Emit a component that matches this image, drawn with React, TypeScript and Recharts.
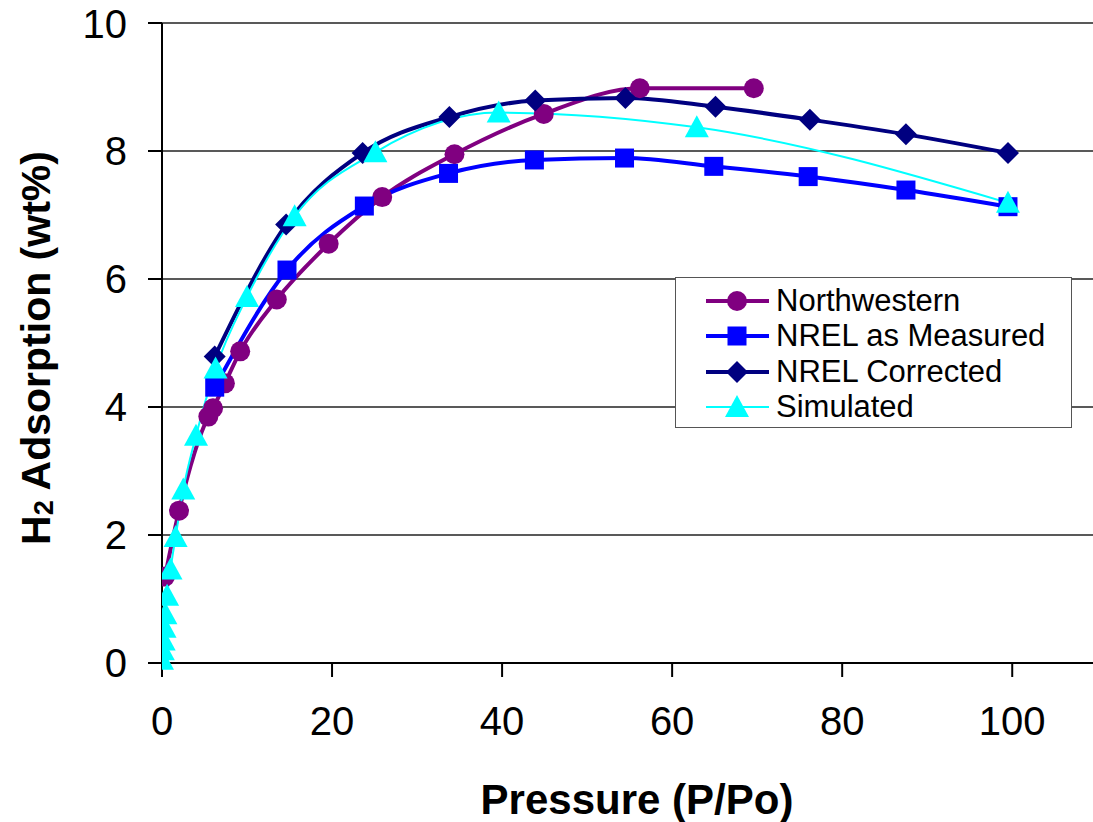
import React from "react";
import { LineChart, Line, XAxis, YAxis, CartesianGrid, Legend, Label } from "recharts";

// 각 시리즈 데이터 (압력 P/Po, 흡착량 wt%)
const northwestern = [
  { x: 0.35, y: 1.35 },
  { x: 2.0, y: 2.38 },
  { x: 5.45, y: 3.85 },
  { x: 6.0, y: 3.98 },
  { x: 7.4, y: 4.37 },
  { x: 9.2, y: 4.87 },
  { x: 13.5, y: 5.68 },
  { x: 19.6, y: 6.55 },
  { x: 25.9, y: 7.28 },
  { x: 34.4, y: 7.95 },
  { x: 44.9, y: 8.58 },
  { x: 56.2, y: 8.98 },
  { x: 69.6, y: 8.98 },
];

const nrelMeasured = [
  { x: 6.2, y: 4.31 },
  { x: 14.7, y: 6.14 },
  { x: 23.8, y: 7.14 },
  { x: 33.7, y: 7.65 },
  { x: 43.8, y: 7.86 },
  { x: 54.4, y: 7.89 },
  { x: 64.9, y: 7.76 },
  { x: 76.0, y: 7.6 },
  { x: 87.5, y: 7.39 },
  { x: 99.5, y: 7.13 },
];

const nrelCorrected = [
  { x: 6.2, y: 4.79 },
  { x: 14.6, y: 6.85 },
  { x: 23.6, y: 7.97 },
  { x: 33.8, y: 8.53 },
  { x: 43.9, y: 8.79 },
  { x: 54.5, y: 8.83 },
  { x: 65.1, y: 8.69 },
  { x: 76.2, y: 8.49 },
  { x: 87.5, y: 8.26 },
  { x: 99.5, y: 7.97 },
];

const simulated = [
  { x: 0.0, y: 0.05 },
  { x: 0.1, y: 0.2 },
  { x: 0.2, y: 0.35 },
  { x: 0.3, y: 0.55 },
  { x: 0.4, y: 0.76 },
  { x: 0.6, y: 1.05 },
  { x: 1.0, y: 1.46 },
  { x: 1.6, y: 1.97 },
  { x: 2.5, y: 2.71 },
  { x: 4.0, y: 3.55 },
  { x: 6.3, y: 4.6 },
  { x: 10.0, y: 5.72 },
  { x: 15.6, y: 6.98 },
  { x: 25.1, y: 7.98 },
  { x: 39.6, y: 8.6 },
  { x: 62.9, y: 8.37 },
  { x: 99.5, y: 7.19 },
];

const xTicks = [0, 20, 40, 60, 80, 100];
const yTicks = [0, 2, 4, 6, 8, 10];

const FONT = "'Liberation Sans', Arial, sans-serif";

const COLORS = {
  nw: "#800080",
  measured: "#0000FF",
  corrected: "#000080",
  sim: "#00FFFF",
};

// 마커 모양
function marker(kind: string, cx: number, cy: number, color: string, key?: any) {
  if (kind === "circle") return <circle key={key} cx={cx} cy={cy} r={10} fill={color} />;
  if (kind === "square") return <rect key={key} x={cx - 9.5} y={cy - 9.5} width={19} height={19} fill={color} />;
  if (kind === "diamond")
    return <polygon key={key} points={`${cx},${cy - 11} ${cx + 11},${cy} ${cx},${cy + 11} ${cx - 11},${cy}`} fill={color} />;
  return <polygon key={key} points={`${cx},${cy - 12} ${cx + 12},${cy + 10} ${cx - 12},${cy + 10}`} fill={color} />;
}

const makeDot = (kind: string, color: string) => (p: any) => marker(kind, p.cx, p.cy, color, `${kind}-${p.index}`);

const legendItems = [
  { name: "Northwestern", kind: "circle", color: COLORS.nw, width: 4 },
  { name: "NREL as Measured", kind: "square", color: COLORS.measured, width: 4 },
  { name: "NREL Corrected", kind: "diamond", color: COLORS.corrected, width: 4 },
  { name: "Simulated", kind: "triangle", color: COLORS.sim, width: 2 },
];

function renderLegend() {
  return (
    <div
      style={{
        width: 397,
        height: 151,
        border: "1px solid #555",
        background: "#fff",
        boxSizing: "border-box",
        paddingTop: 5,
      }}
    >
      {legendItems.map((it) => (
        <div key={it.name} style={{ display: "flex", alignItems: "center", height: 35.5 }}>
          <svg width={100} height={34} style={{ display: "block" }}>
            <line x1={30} x2={93} y1={17} y2={17} stroke={it.color} strokeWidth={it.width} />
            {marker(it.kind, 61, 17, it.color)}
          </svg>
          <span style={{ fontFamily: FONT, fontSize: 31, color: "#000", lineHeight: "34px" }}>{it.name}</span>
        </div>
      ))}
    </div>
  );
}

export default function App() {
  const tickStyle = { fontSize: 40, fill: "#000", fontFamily: FONT };
  return (
    <div style={{ position: "absolute", left: 0, top: 0, background: "#fff" }}>
      <LineChart width={1093} height={822} margin={{ top: 23, right: 0, left: 0, bottom: 0 }}>
        <CartesianGrid vertical={false} stroke="#222" strokeWidth={1.3} />
        <XAxis
          type="number"
          dataKey="x"
          domain={[0, 109.5]}
          ticks={xTicks}
          allowDataOverflow
          height={159}
          tickSize={14}
          tickMargin={30}
          tick={tickStyle}
          stroke="#000"
          strokeWidth={2}
        >
          <Label
            content={() => (
              <text x={637} y={814} textAnchor="middle" fontFamily={FONT} fontSize={42} fontWeight="bold" fill="#000">
                Pressure (P/Po)
              </text>
            )}
          />
        </XAxis>
        <YAxis
          type="number"
          domain={[0, 10]}
          ticks={yTicks}
          width={162}
          tickSize={14}
          tickMargin={21}
          tick={tickStyle}
          stroke="#000"
          strokeWidth={2}
        >
          <Label
            content={() => (
              <text
                transform="translate(50,348) rotate(-90)"
                textAnchor="middle"
                fontFamily={FONT}
                fontSize={41}
                fontWeight="bold"
                fill="#000"
              >
                H<tspan fontSize={27} dy={3}>2</tspan>
                <tspan dy={-3}> Adsorption (wt%)</tspan>
              </text>
            )}
          />
        </YAxis>
        <Legend
          layout="vertical"
          align="center"
          verticalAlign="middle"
          content={renderLegend}
          wrapperStyle={{ left: 675, top: 277, width: 397, height: 151 }}
        />
        <Line
          data={northwestern}
          dataKey="y"
          name="Northwestern"
          type="monotone"
          stroke={COLORS.nw}
          strokeWidth={4}
          dot={makeDot("circle", COLORS.nw)}
          activeDot={false}
          isAnimationActive={false}
        />
        <Line
          data={nrelMeasured}
          dataKey="y"
          name="NREL as Measured"
          type="monotone"
          stroke={COLORS.measured}
          strokeWidth={4}
          dot={makeDot("square", COLORS.measured)}
          activeDot={false}
          isAnimationActive={false}
        />
        <Line
          data={nrelCorrected}
          dataKey="y"
          name="NREL Corrected"
          type="monotone"
          stroke={COLORS.corrected}
          strokeWidth={4}
          dot={makeDot("diamond", COLORS.corrected)}
          activeDot={false}
          isAnimationActive={false}
        />
        <Line
          data={simulated}
          dataKey="y"
          name="Simulated"
          type="monotone"
          stroke={COLORS.sim}
          strokeWidth={2}
          dot={makeDot("triangle", COLORS.sim)}
          activeDot={false}
          isAnimationActive={false}
        />
      </LineChart>
    </div>
  );
}
